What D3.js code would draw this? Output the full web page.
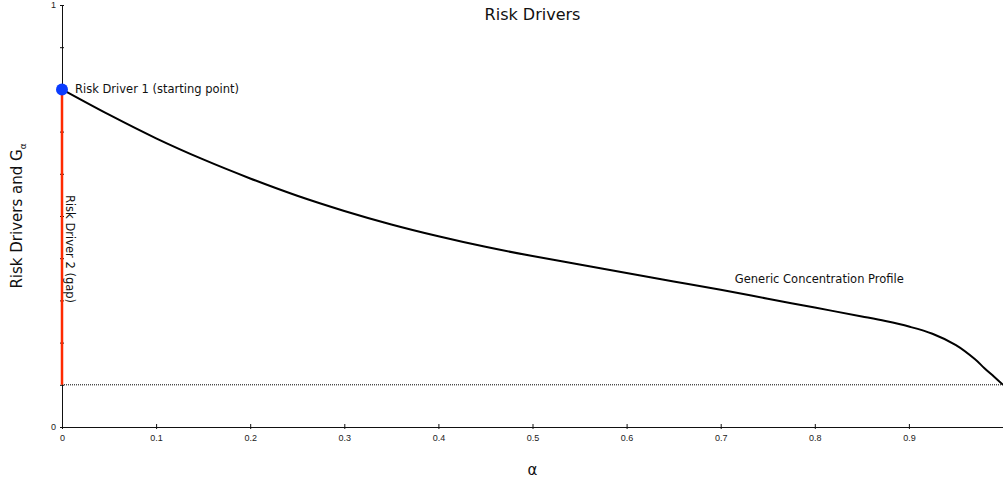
<!DOCTYPE html>
<html>
<head>
<meta charset="utf-8">
<script src="https://cdn.jsdelivr.net/npm/d3@7"></script>
<style>
  body { margin: 0; background: #fff; }
  svg { display: block; font-family: "DejaVu Sans", sans-serif; }
  .axis text { font-size: 9px; fill: #222; }
  .axis path, .axis line { stroke: #111; }
</style>
</head>
<body>
<div id="chart"></div>
<script>
const width = 1003;
const height = 483;
const margin = {top: 5, right: 0, bottom: 56, left: 62};

// concentration profile G_alpha
const alphas = [0, 0.05, 0.1, 0.15, 0.2, 0.25, 0.3, 0.35, 0.4, 0.45, 0.5, 0.55, 0.6, 0.65,
  0.7, 0.75, 0.8, 0.85, 0.875, 0.9, 0.925, 0.95, 0.97, 0.98, 0.99, 1];
const gValues = [0.8, 0.74, 0.684, 0.634, 0.589, 0.548, 0.512, 0.48, 0.452, 0.427, 0.405, 0.385, 0.365, 0.345,
  0.325, 0.304, 0.283, 0.262, 0.251, 0.238, 0.221, 0.194, 0.161, 0.14, 0.12, 0.1];

const startPoint = 0.8;
const floorValue = 0.1;
const xTicks = [0, 0.1, 0.2, 0.3, 0.4, 0.5, 0.6, 0.7, 0.8, 0.9];
const yTicks = [0, 0.1, 0.2, 0.3, 0.4, 0.5, 0.6, 0.7, 0.8, 0.9, 1];
const yTickLabels = [0, 1];

const x = d3.scaleLinear().domain([0, 1]).range([margin.left, width - margin.right]);
const y = d3.scaleLinear().domain([0, 1]).range([height - margin.bottom, margin.top]);

const svg = d3.select("#chart").append("svg")
  .attr("width", width)
  .attr("height", height);

svg.append("g")
  .attr("class", "axis")
  .attr("transform", `translate(0,${y(0)})`)
  .call(d3.axisBottom(x).tickValues(xTicks).tickSize(0).tickPadding(8).tickFormat(d => d === 0 ? "0" : d3.format(".1f")(d)))
  .call(g => g.selectAll(".tick line").attr("y1", -3).attr("y2", 2))
  .call(g => g.select(".domain").attr("stroke-width", 1.2));

svg.append("g")
  .attr("class", "axis")
  .attr("transform", `translate(${x(0)},0)`)
  .call(d3.axisLeft(y).tickValues(yTicks).tickSize(0).tickPadding(6)
    .tickFormat(d => yTickLabels.includes(d) ? d : ""))
  .call(g => g.selectAll(".tick line").attr("x1", -2).attr("x2", 2))
  .call(g => g.select(".domain").attr("stroke", "#555"));

// dotted floor
svg.append("line")
  .attr("x1", x(0)).attr("x2", x(1))
  .attr("y1", y(floorValue)).attr("y2", y(floorValue))
  .attr("stroke", "#000")
  .attr("stroke-width", 1)
  .attr("stroke-dasharray", "1,1");

// gap
svg.append("line")
  .attr("x1", x(0)).attr("x2", x(0))
  .attr("y1", y(startPoint)).attr("y2", y(floorValue))
  .attr("stroke", "#ff2a00")
  .attr("stroke-width", 2.5);

const line = d3.line()
  .x((d, i) => x(alphas[i]))
  .y(d => y(d))
  .curve(d3.curveCatmullRom.alpha(0.5));

svg.append("path")
  .datum(gValues)
  .attr("fill", "none")
  .attr("stroke", "#000")
  .attr("stroke-width", 2)
  .attr("d", line);

svg.append("circle")
  .attr("cx", x(0))
  .attr("cy", y(startPoint))
  .attr("r", 6)
  .attr("fill", "#0a3cff");

svg.append("text")
  .attr("x", x(0) + 13)
  .attr("y", y(startPoint))
  .attr("dy", "0.35em")
  .attr("font-size", 11.5)
  .attr("fill", "#111")
  .text("Risk Driver 1 (starting point)");

svg.append("text")
  .attr("transform", `translate(${x(0) + 4},${y(0.55)}) rotate(90)`)
  .attr("font-size", 11.5)
  .attr("fill", "#111")
  .text("Risk Driver 2 (gap)");

svg.append("text")
  .attr("x", x(0.715))
  .attr("y", y(0.35))
  .attr("dy", "0.35em")
  .attr("font-size", 11.5)
  .attr("fill", "#111")
  .text("Generic Concentration Profile");

svg.append("text")
  .attr("x", x(0.5))
  .attr("y", 14)
  .attr("dy", "0.35em")
  .attr("text-anchor", "middle")
  .attr("font-size", 16)
  .attr("fill", "#111")
  .text("Risk Drivers");

svg.append("text")
  .attr("x", x(0.5))
  .attr("y", 470)
  .attr("dy", "0.35em")
  .attr("text-anchor", "middle")
  .attr("font-size", 15)
  .attr("fill", "#111")
  .text("α");

const yLabel = svg.append("text")
  .attr("transform", `translate(17,${y(0.5)}) rotate(-90)`)
  .attr("dy", "0.35em")
  .attr("text-anchor", "middle")
  .attr("font-size", 15)
  .attr("fill", "#111");
yLabel.append("tspan").text("Risk Drivers and G");
yLabel.append("tspan").attr("font-size", 9).attr("dy", "0.4em").text("α");
</script>
</body>
</html>
